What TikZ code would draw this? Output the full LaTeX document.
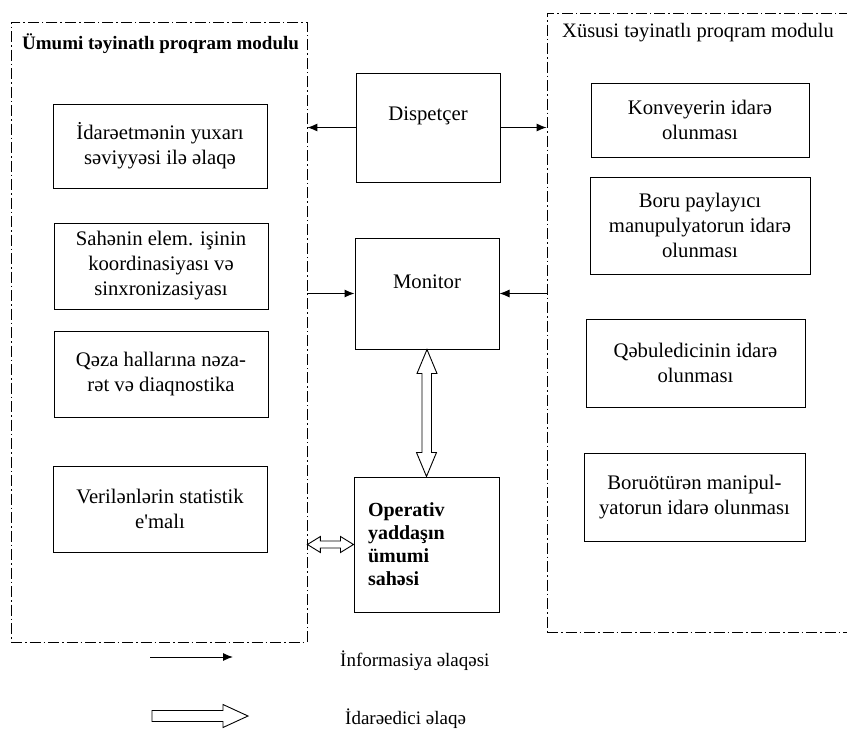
\documentclass[tikz,border=0pt]{standalone}
\usepackage{fontspec}
\setmainfont{Liberation Serif}
\usetikzlibrary{arrows.meta,calc}

\tikzset{
  modbox/.style={draw, line width=1pt, minimum width=214pt, minimum height=86pt,
    align=center, font=\fontsize{20.7}{25}\selectfont},
  cbox/.style={draw, line width=1pt, minimum width=144pt, minimum height=110pt,
    font=\fontsize{20.7}{25}\selectfont, text height=15pt},
  frame/.style={draw, line width=0.8pt, dash pattern=on 11pt off 3pt on 1.5pt off 3pt},
  info/.style={line width=1pt, -{Latex[length=10pt,width=8pt]}},
  hollow/.style={draw, line width=0.9pt, fill=white, line join=miter},
  legtext/.style={anchor=west, inner sep=0pt, font=\fontsize{19}{23}\selectfont}
}

\begin{document}
\begin{tikzpicture}[x=1pt, y=-1pt]
      \clip (0,0) rectangle (847,734);
      % dashed frames of the two module groups
      \node[frame, minimum width=296pt, minimum height=620pt] (left) at (159,332) {};
      \node[frame, minimum width=323pt, minimum height=619pt] (right) at (708.5,322.5) {};
      \node[anchor=west, inner sep=0pt, font=\fontsize{19}{23}\selectfont\bfseries] (ltitle) at (22,44) {Ümumi təyinatlı proqram modulu};
      \node[anchor=west, inner sep=0pt, font=\fontsize{20.5}{25}\selectfont] (rtitle) at (562,33) {Xüsusi təyinatlı proqram modulu};

      % general purpose modules
      \node[modbox, minimum height=84pt] (up) at (160,146) {İdarəetmənin yuxarı\\səviyyəsi ilə əlaqə};
      \node[modbox] (coord) at (161,266) {Sahənin elem. işinin\\koordinasiyası və\\sinxronizasiyası};
      \node[modbox] (diag) at (161,374.5) {Qəza hallarına nəza-\\rət və diaqnostika};
      \node[modbox] (stat) at (160,509) {Verilənlərin statistik\\e\textquotesingle malı};

      % centre
      \node[cbox, minimum height=109pt, text depth=30pt] (disp) at (428,127.5) {Dispetçer};
      \node[cbox, minimum height=111pt, text depth=25pt] (mon) at (427,293.5) {Monitor};
      \node[draw, line width=1pt, minimum width=145pt, minimum height=135pt, text width=117pt,
        inner xsep=14pt, align=left, font=\fontsize{20}{23}\selectfont\bfseries] (op) at (426.5,544.5)
        {Operativ\\yaddaşın\\ümumi\\sahəsi};

      % special purpose modules
      \node[modbox, minimum width=218pt, minimum height=74pt] (conv) at (700,120) {Konveyerin idarə\\olunması};
      \node[modbox, minimum width=220pt, minimum height=97pt] (dist) at (700,225.5) {Boru paylayıcı\\manupulyatorun idarə\\olunması};
      \node[modbox, minimum width=219pt, minimum height=88pt] (recv) at (695.5,363) {Qəbuledicinin idarə\\olunması};
      \node[modbox, minimum width=221pt, minimum height=88pt] (pipe) at (694.5,497) {Boruötürən manipul-\\yatorun idarə olunması};

      % information links
      \draw[info] (disp.west) -- (disp.west -| left.east);
      \draw[info] (disp.east) -- (disp.east -| right.west);
      \draw[info] (mon.west -| left.east) -- (mon.west);
      \draw[info] (mon.east -| right.west) -- (mon.east);

      % control links
      \draw[hollow] (mon.south) -- ++(10,24) -- ++(-5.5,0) |- ($(op.north)+(10,-24)$) -- (op.north)
        -- ++(-10,-24) -- ++(5.5,0) |- ($(mon.south)+(-10,24)$) -- cycle;
      \coordinate (memin) at (left.east |- op.west);
      \draw[hollow] (memin) -- ++(13,-8) -- ++(0,4.5) -| ($(op.west)+(-13,-8)$) -- (op.west)
        -- ++(-13,8) -- ++(0,-4.5) -| ($(memin)+(13,8)$) -- cycle;

      % legend
      \coordinate (infA) at (150,657);
      \coordinate (infB) at (233,657);
      \draw[info] (infA) -- (infB);
      \node[legtext] (inftext) at (340,661) {İnformasiya əlaqəsi};
      \coordinate (ctlA) at (152,716);
      \coordinate (ctlB) at (248,716);
      \draw[hollow] ($(ctlA)+(0,-5.5)$) -| ($(ctlB)+(-25,-11.5)$) -- (ctlB) -- ++(-25,11.5)
        |- ($(ctlA)+(0,5.5)$) -- cycle;
      \node[legtext] (ctltext) at (345,719) {İdarəedici əlaqə};
    \end{tikzpicture}
\end{document}
